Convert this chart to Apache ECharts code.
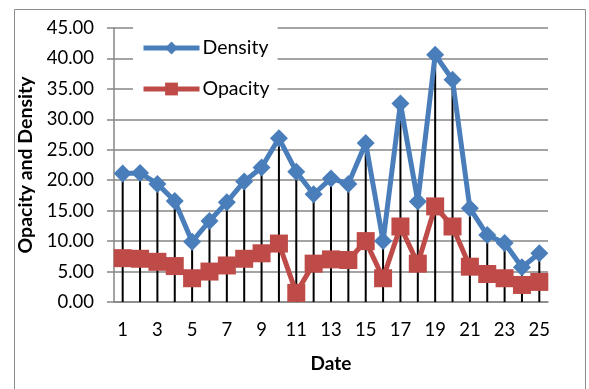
<!DOCTYPE html>
<html>
<head>
<meta charset="utf-8">
<script src="https://cdn.jsdelivr.net/npm/echarts@6/dist/echarts.min.js"></script>
<style>
html,body{margin:0;padding:0;background:#fff;}
#c{width:589px;height:389px;}
</style>
</head>
<body>
<div id="c"></div>
<script>
var dates = ['1','2','3','4','5','6','7','8','9','10','11','12','13','14','15','16','17','18','19','20','21','22','23','24','25'];
var density = [21.1, 21.2, 19.4, 16.6, 9.9, 13.3, 16.4, 19.8, 22.1, 26.9, 21.4, 17.7, 20.3, 19.4, 26.1, 10.0, 32.6, 16.5, 40.6, 36.5, 15.4, 11.0, 9.7, 5.7, 8.0];
var opacity = [7.2, 7.1, 6.6, 5.9, 3.9, 5.0, 6.0, 7.1, 8.0, 9.6, 1.5, 6.3, 7.0, 6.9, 10.0, 3.9, 12.4, 6.3, 15.7, 12.4, 5.8, 4.6, 3.9, 2.8, 3.3];
var yTicks = {min: 0, max: 45, interval: 5};

var FONT = 'Lato';
var chart = echarts.init(document.getElementById('c'), null, {renderer: 'canvas'});
chart.setOption({
  animation: false,
  backgroundColor: '#fff',
  textStyle: {fontFamily: FONT},
  graphic: [{
    type: 'rect', z: -10, silent: true,
    shape: {x: 14.5, y: 9.5, width: 571, height: 400},
    style: {fill: '#fff', stroke: '#8c8c8c', lineWidth: 1}
  }],
  grid: {left: 114, right: 41, top: 28, bottom: 87, containLabel: false},
  legend: {
    data: ['Density', 'Opacity'],
    orient: 'vertical',
    left: 133, top: 26,
    padding: [12, 8, 10, 8],
    backgroundColor: '#fff',
    itemWidth: 56, itemHeight: 16, itemGap: 21,
    lineStyle: {width: 5},
    textStyle: {fontFamily: FONT, fontSize: 19.5, color: '#000', padding: [0, 0, 0, -2]},
    z: 10
  },
  xAxis: {
    type: 'category',
    data: dates,
    boundaryGap: true,
    name: 'Date',
    nameLocation: 'middle',
    nameGap: 52,
    nameTextStyle: {fontFamily: FONT, fontSize: 19, fontWeight: 'bold', color: '#000'},
    axisLine: {lineStyle: {color: '#868686', width: 1.5}},
    axisTick: {show: false},
    axisLabel: {interval: 1, fontFamily: FONT, fontSize: 18.5, color: '#000', margin: 19}
  },
  yAxis: {
    type: 'value',
    min: yTicks.min, max: yTicks.max, interval: yTicks.interval,
    name: 'Opacity and Density',
    nameLocation: 'middle',
    nameGap: 72,
    nameTextStyle: {fontFamily: FONT, fontSize: 19.5, fontWeight: 'bold', color: '#000'},
    axisLine: {show: true, lineStyle: {color: '#868686', width: 1.5}},
    axisTick: {show: true, length: 7, lineStyle: {color: '#868686', width: 1.5}},
    splitLine: {lineStyle: {color: '#868686', width: 1.5}},
    axisLabel: {fontFamily: FONT, fontSize: 18.5, color: '#000', margin: 20,
      formatter: function (v) { return v.toFixed(2); }}
  },
  series: [
    {
      name: 'drop', type: 'bar', data: density, barWidth: 2,
      itemStyle: {color: '#000'}, z: 1, silent: true
    },
    {
      name: 'Density', type: 'line', data: density,
      showAllSymbol: true,
      symbol: 'diamond', symbolSize: 18,
      lineStyle: {color: '#4A7EBB', width: 5},
      itemStyle: {color: '#4A7EBB'}, z: 3
    },
    {
      name: 'Opacity', type: 'line', data: opacity,
      showAllSymbol: true,
      symbol: 'rect', symbolSize: 18,
      lineStyle: {color: '#BE4B48', width: 5},
      itemStyle: {color: '#BE4B48'}, z: 2
    }
  ]
});
</script>
</body>
</html>
